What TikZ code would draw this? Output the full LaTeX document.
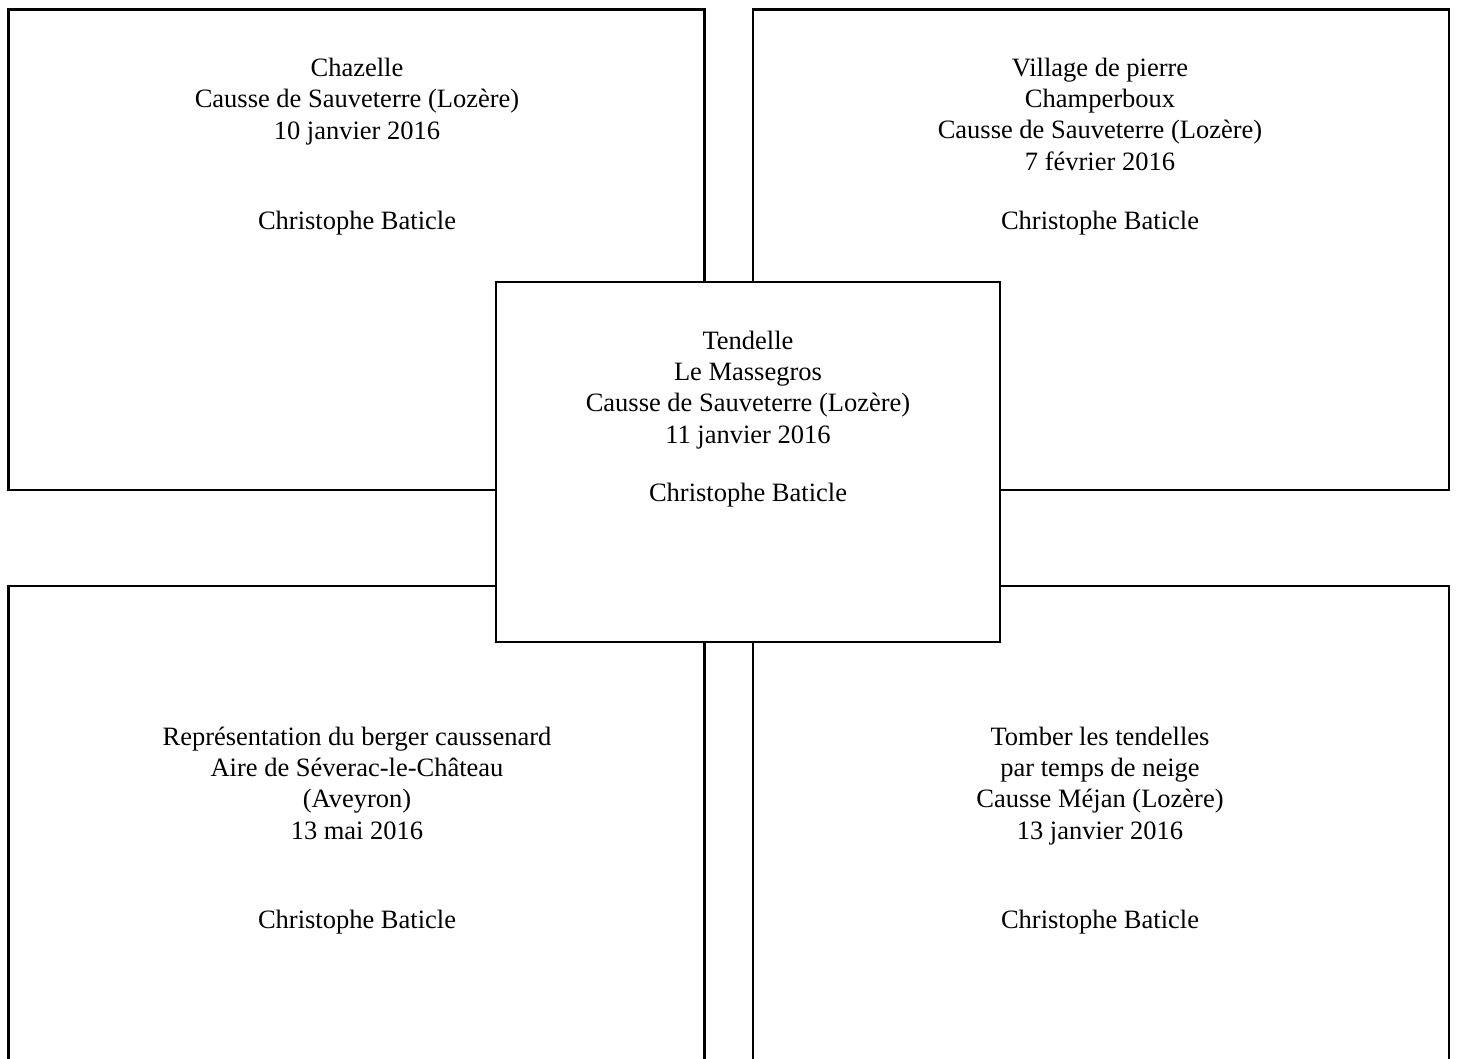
\documentclass[tikz,border=0pt]{standalone}
\usepackage{fontspec}
\setmainfont{Liberation Serif}
\begin{document}
\begin{tikzpicture}[x=1pt,y=-1pt,
  box/.style={draw, line width=2.2pt, fill=white, inner sep=0pt, outer sep=0pt},
  txt/.style={align=center, font=\fontsize{26.5}{31.3}\selectfont, inner sep=0pt}]
\useasboundingbox (0,0) rectangle (1458,1059);
\clip (0,0) rectangle (1458,1059);
% boxes
\node[box, minimum width=696pt, minimum height=480.5pt] (tl) at (356.5,249.75) {};
\node[box, minimum width=696.3pt, minimum height=480.5pt] (tr) at (1100.85,249.75) {};
\node[box, minimum width=696pt, minimum height=494pt] (bl) at (356.5,833) {};
\node[box, minimum width=696.3pt, minimum height=494pt] (br) at (1100.85,833) {};
\node[box, minimum width=504.3pt, minimum height=360.3pt] (ct) at (748.15,462.15) {};
% texts
\node[txt] (tlt) at (357,101.4) {Chazelle\\Causse de Sauveterre (Lozère)\\10 janvier 2016};
\node[txt, anchor=base] (tla) at (357,229.7) {Christophe Baticle};
\node[txt] (trt) at (1100,114) {Village de pierre\\Champerboux\\Causse de Sauveterre (Lozère)\\7 février 2016};
\node[txt, anchor=base] (tra) at (1100,229.7) {Christophe Baticle};
\node[txt] (ctt) at (748,389.9) {Tendelle\\Le Massegros\\Causse de Sauveterre (Lozère)\\11 janvier 2016};
\node[txt, anchor=base] (cta) at (748,501) {Christophe Baticle};
\node[txt] (blt) at (357,783) {Représentation du berger caussenard\\Aire de Séverac-le-Château\\(Aveyron)\\13 mai 2016};
\node[txt, anchor=base] (bla) at (357,928) {Christophe Baticle};
\node[txt] (brt) at (1100,785.8) {Tomber les tendelles\\par temps de neige\\Causse Méjan (Lozère)\\13 janvier 2016};
\node[txt, anchor=base] (bra) at (1100,928) {Christophe Baticle};
\end{tikzpicture}
\end{document}
